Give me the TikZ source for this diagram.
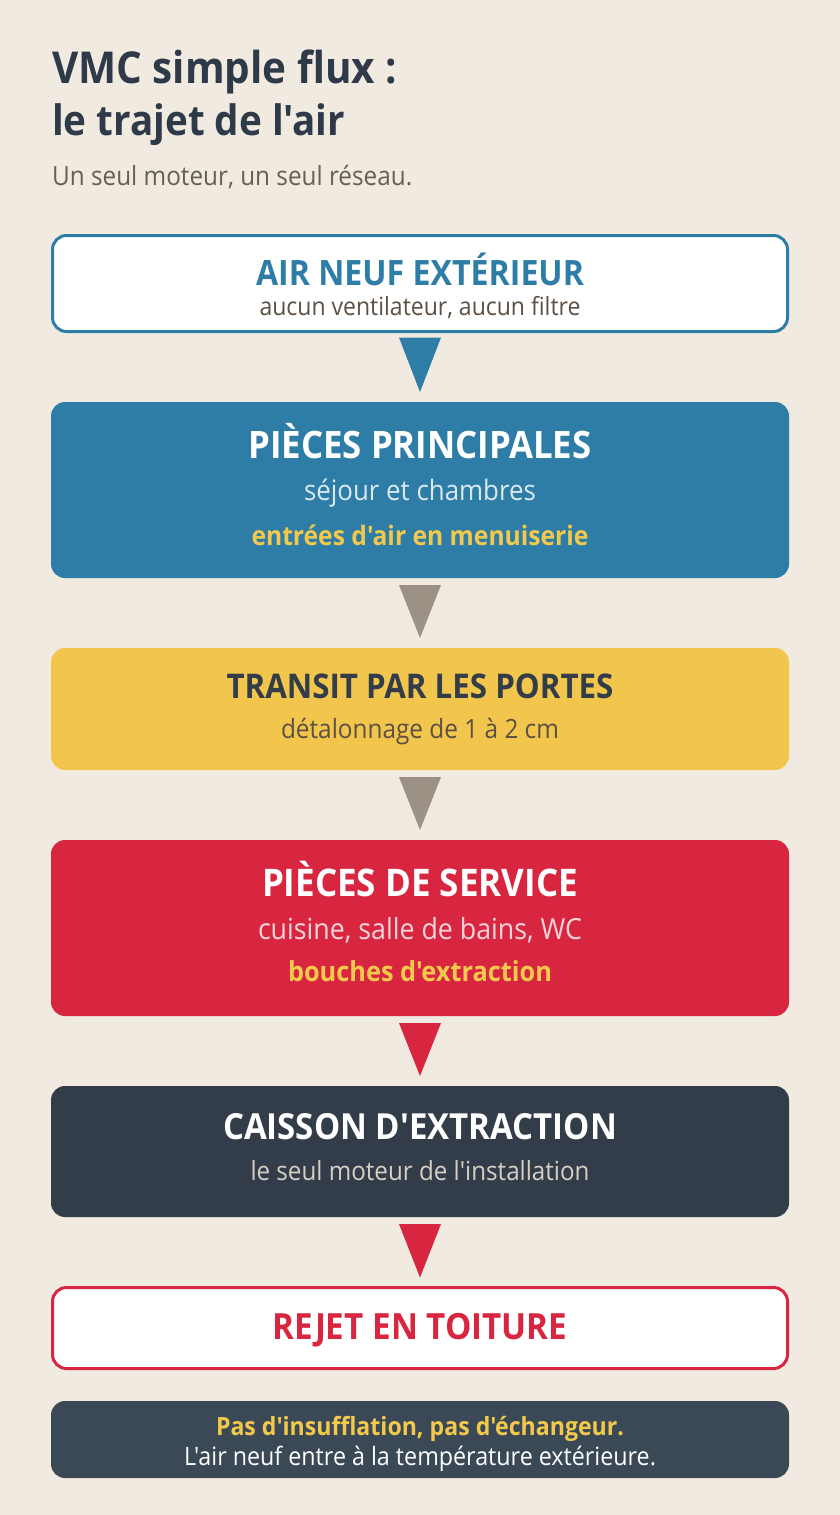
\documentclass[tikz,border=0pt]{standalone}
\usepackage{fontspec}
\setmainfont{Open Sans}[Ligatures=TeXOff, FakeStretch=0.92]
\usetikzlibrary{calc}
\definecolor{bgc}{HTML}{F0EAE0}
\definecolor{titlec}{HTML}{2E3A48}
\definecolor{subc}{HTML}{6B5E50}
\definecolor{bluec}{HTML}{2E7DA6}
\definecolor{brownc}{HTML}{5C5045}
\definecolor{lightblue}{HTML}{DCE8F0}
\definecolor{yellowc}{HTML}{F2C64C}
\definecolor{yeltext}{HTML}{F2C94C}
\definecolor{darkc}{HTML}{333D4A}
\definecolor{redc}{HTML}{D92640}
\definecolor{pinkc}{HTML}{F7D4DA}
\definecolor{beigec}{HTML}{D6CFC4}
\definecolor{notec}{HTML}{3B4856}
\definecolor{grayc}{HTML}{9B9285}
\newsavebox\measbox
\newcommand\fitto[3]{\sbox\measbox{\fontsize{10}{12}\selectfont#1#3}%
  \pgfmathsetmacro\fitsize{10*#2/\the\wd\measbox}%
  \fontsize{\fitsize}{\fitsize}\selectfont#1#3}
\tikzset{
  card/.style={rounded corners=14pt, minimum width=738pt, inner sep=0pt, outer sep=0pt},
  outlined/.style={card, fill=white, line width=3pt, minimum width=735pt},
  txt/.style={anchor=base, inner sep=0pt}
}
\begin{document}
\begin{tikzpicture}[x=1pt,y=-1pt]
\fill[bgc] (0,0) rectangle (840,1515);
\useasboundingbox (0,0) rectangle (840,1515);
% title
\node[anchor=base west, inner sep=0pt, text=titlec] (t1) at (52,83) {\fitto{\bfseries}{345}{VMC simple flux :}};
\node[anchor=base west, inner sep=0pt, text=titlec] (t2) at (52,135) {\fitto{\bfseries}{293}{le trajet de l'air}};
\node[anchor=base west, inner sep=0pt, text=subc] (t3) at (52,185) {\fitto{}{360}{Un seul moteur, un seul réseau.}};
% boxes
\node[outlined, draw=bluec, minimum height=96pt] (b1) at (420,283.5) {};
\node[card, fill=bluec, minimum height=176pt] (b2) at (420,490) {};
\node[card, fill=yellowc, minimum height=122pt] (b3) at (420,709) {};
\node[card, fill=redc, minimum height=176pt] (b4) at (420,928) {};
\node[card, fill=darkc, minimum height=131pt] (b5) at (420,1151.5) {};
\node[outlined, draw=redc, minimum height=81pt] (b6) at (420,1328) {};
\node[card, fill=notec, minimum height=77pt] (b7) at (420,1439.5) {};
% texts
\node[txt, text=bluec] (l1a) at (420,285) {\fitto{\bfseries}{328}{AIR NEUF EXTÉRIEUR}};
\node[txt, text=brownc] (l1b) at (420,315) {\fitto{}{321}{aucun ventilateur, aucun filtre}};
\node[txt, text=white] (l2a) at (420,458) {\fitto{\bfseries}{343}{PIÈCES PRINCIPALES}};
\node[txt, text=lightblue] (l2b) at (420,500) {\fitto{}{232}{séjour et chambres}};
\node[txt, text=yeltext] (l2c) at (420,545) {\fitto{\bfseries}{337}{entrées d'air en menuiserie}};
\node[txt, text=darkc] (l3a) at (420,698) {\fitto{\bfseries}{387}{TRANSIT PAR LES PORTES}};
\node[txt, text=brownc] (l3b) at (420,738) {\fitto{}{278}{détalonnage de 1 à 2 cm}};
\node[txt, text=white] (l4a) at (420,896) {\fitto{\bfseries}{316}{PIÈCES DE SERVICE}};
\node[txt, text=pinkc] (l4b) at (420,939) {\fitto{}{324}{cuisine, salle de bains, WC}};
\node[txt, text=yeltext] (l4c) at (420,981) {\fitto{\bfseries}{264}{bouches d'extraction}};
\node[txt, text=white] (l5a) at (420,1139) {\fitto{\bfseries}{394}{CAISSON D'EXTRACTION}};
\node[txt, text=beigec] (l5b) at (420,1180) {\fitto{}{339}{le seul moteur de l'installation}};
\node[txt, text=redc] (l6a) at (420,1339) {\fitto{\bfseries}{295}{REJET EN TOITURE}};
\node[txt, text=yeltext] (l7a) at (420,1435) {\fitto{\bfseries}{408}{Pas d'insufflation, pas d'échangeur.}};
\node[txt, text=white] (l7b) at (420,1465) {\fitto{}{472}{L'air neuf entre à la température extérieure.}};
% arrows
\fill[bluec] ($(b1.south)+(-21,6)$) -- ($(b1.south)+(21,6)$) -- ($(b2.north)+(0,-10)$) -- cycle;
\fill[grayc] ($(b2.south)+(-21,7)$) -- ($(b2.south)+(21,7)$) -- ($(b3.north)+(0,-10)$) -- cycle;
\fill[grayc] ($(b3.south)+(-21,7)$) -- ($(b3.south)+(21,7)$) -- ($(b4.north)+(0,-10)$) -- cycle;
\fill[redc] ($(b4.south)+(-21,7)$) -- ($(b4.south)+(21,7)$) -- ($(b5.north)+(0,-10)$) -- cycle;
\fill[redc] ($(b5.south)+(-21,7)$) -- ($(b5.south)+(21,7)$) -- ($(b6.north)+(0,-10)$) -- cycle;
\end{tikzpicture}
\end{document}
